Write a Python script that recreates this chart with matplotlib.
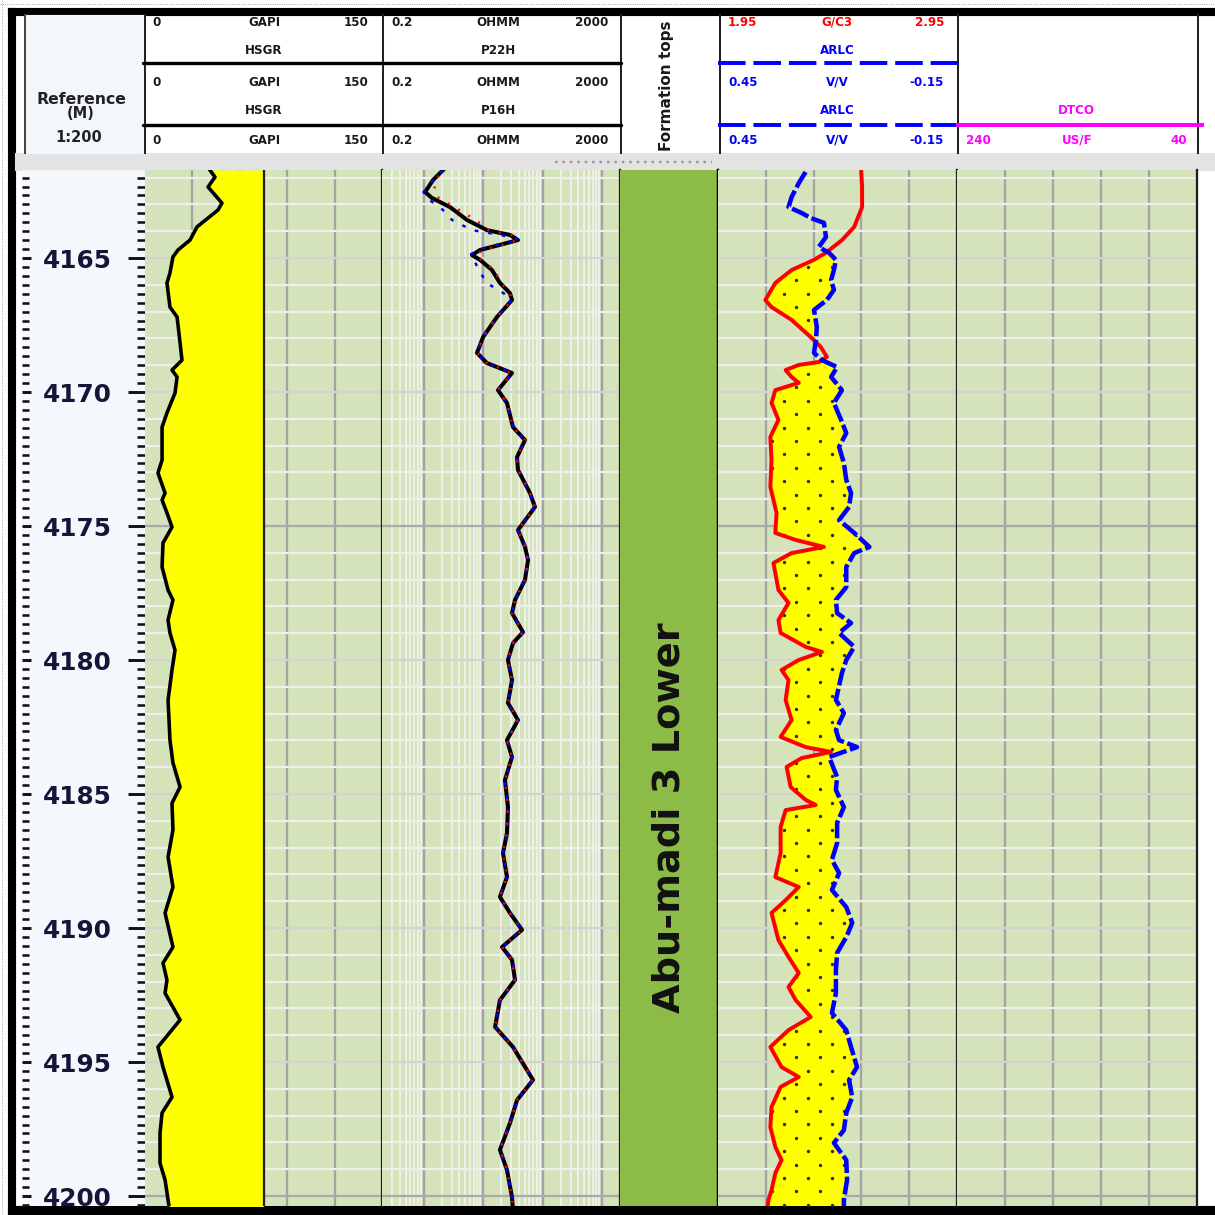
import numpy as np
import matplotlib
matplotlib.use('Agg')
import matplotlib.pyplot as plt
from matplotlib.patches import Rectangle
from matplotlib.path import Path
from matplotlib.ticker import MultipleLocator

# ---- log data ----
depth_gr = [4161.72, 4161.98, 4162.35, 4162.95, 4163.21, 4163.84, 4164.33, 4164.70, 4164.96,
            4165.56, 4165.93, 4166.83, 4167.20, 4168.17, 4168.81, 4169.18, 4169.44, 4170.04,
            4170.78, 4171.31, 4172.54, 4173.02, 4173.77, 4174.03, 4174.51, 4175.04, 4175.63,
            4176.53, 4177.39, 4177.76, 4178.51, 4178.99, 4179.63, 4180.37, 4181.49, 4182.99,
            4183.84, 4184.74, 4185.34, 4186.34, 4187.35, 4188.47, 4189.44, 4190.71, 4191.31,
            4191.94, 4192.43, 4193.43, 4194.44, 4195.19, 4196.31, 4196.90, 4197.65, 4198.77,
            4199.40, 4200.15, 4200.60]
gr_hsgr = [41.1, 44.3, 39.9, 48.7, 46.2, 32.9, 28.5, 20.9, 17.7,
           15.8, 13.9, 15.8, 20.3, 22.2, 23.4, 17.1, 20.3, 19.0,
           13.9, 10.8, 10.8, 8.2, 12.7, 10.8, 13.9, 17.1, 11.4,
           10.8, 14.6, 17.7, 14.6, 15.8, 19.0, 17.1, 14.6, 15.8,
           17.7, 22.2, 17.1, 17.7, 14.6, 17.7, 12.7, 17.7, 11.4,
           13.9, 12.7, 22.2, 8.2, 11.4, 17.1, 10.8, 9.5, 9.5,
           12.7, 14.6, 15.8]

depth_res = [4161.72, 4162.09, 4162.54, 4162.76, 4163.10, 4163.58, 4163.96, 4164.14, 4164.33,
             4164.51, 4164.70, 4164.89, 4165.07, 4165.45, 4165.93, 4166.31, 4166.57, 4167.20,
             4167.95, 4168.54, 4168.92, 4169.29, 4169.93, 4170.41, 4171.31, 4171.79, 4172.43,
             4172.91, 4173.77, 4174.29, 4175.15, 4175.78, 4176.27, 4177.01, 4177.76, 4178.25,
             4178.96, 4179.37, 4180.00, 4180.75, 4181.60, 4182.24, 4182.99, 4183.62, 4184.48,
             4185.49, 4186.46, 4187.20, 4188.10, 4188.84, 4189.44, 4190.07, 4190.71, 4191.19,
             4191.94, 4192.69, 4193.69, 4194.44, 4195.67, 4196.42, 4197.28, 4198.28, 4199.03,
             4200.04, 4200.60]
res_top_p22h = [2.12, 1.44, 1.06, 1.38, 2.78, 5.37, 11.6, 28.3, 38.6,
                19.2, 8.9, 6.5, 8.9, 14.1, 19.2, 28.3, 30.6]
res_top_p16h = [2.12, 1.6, 1.5, 1.8, 3.3, 7.5, 12.5, 30.0, 38.0,
                21.0, 10.0, 7.5, 9.5, 15.5, 20.0, 28.3, 30.6]
res_top_p34h = [2.12, 1.44, 1.0, 1.1, 1.9, 3.0, 6.5, 20.0, 42.0,
                17.0, 8.0, 6.0, 7.0, 8.5, 11.5, 22.0, 30.6]
res_tail = [17.1, 10.0, 7.9, 11.6, 30.6, 17.8, 25.2, 31.8, 50.6, 37.2,
            38.6, 61.4, 74.5, 38.6, 50.6, 56.9, 50.6, 34.4, 30.6, 46.9,
            31.8, 26.2, 30.6, 26.2, 38.6, 25.2, 30.6, 23.3, 26.2, 25.2,
            21.6, 25.2, 19.2, 28.3, 45.1, 20.8, 30.6, 34.4, 19.2, 15.9,
            31.8, 69.0, 37.2, 28.3, 19.2, 25.2, 30.6, 32.0]
res_p22h = res_top_p22h + res_tail
res_p16h = res_top_p16h + res_tail
res_p34h = res_top_p34h + res_tail

depth_rhob = [4161.72, 4162.35, 4163.10, 4163.84, 4164.33, 4164.81, 4165.07, 4165.45, 4165.93,
              4166.57, 4166.83, 4167.31, 4167.95, 4168.32, 4168.69, 4168.88, 4168.99, 4169.18,
              4169.44, 4169.66, 4169.93, 4170.41, 4171.04, 4171.68, 4172.54, 4173.54, 4174.51,
              4175.26, 4175.52, 4175.78, 4176.01, 4176.38, 4177.39, 4177.87, 4178.51, 4178.99,
              4179.51, 4179.70, 4180.00, 4180.37, 4180.75, 4181.49, 4182.24, 4182.87, 4183.25,
              4183.43, 4183.66, 4183.99, 4184.74, 4185.22, 4185.41, 4185.60, 4186.23, 4187.20,
              4188.10, 4188.47, 4188.96, 4189.44, 4190.45, 4191.08, 4191.68, 4192.20, 4192.69,
              4193.32, 4193.81, 4194.44, 4195.19, 4195.56, 4195.93, 4196.68, 4197.43, 4198.17,
              4198.66, 4199.14, 4199.78, 4200.15, 4200.60]
rhob = [2.549, 2.553, 2.553, 2.520, 2.469, 2.401, 2.351, 2.258, 2.190,
        2.148, 2.174, 2.258, 2.338, 2.380, 2.406, 2.372, 2.288, 2.233,
        2.258, 2.288, 2.190, 2.174, 2.203, 2.169, 2.174, 2.169, 2.195,
        2.190, 2.275, 2.393, 2.258, 2.182, 2.203, 2.245, 2.203, 2.212,
        2.317, 2.385, 2.288, 2.216, 2.245, 2.233, 2.258, 2.212, 2.317,
        2.423, 2.300, 2.237, 2.254, 2.317, 2.359, 2.233, 2.212, 2.212,
        2.190, 2.288, 2.233, 2.174, 2.203, 2.245, 2.288, 2.245, 2.275,
        2.338, 2.245, 2.169, 2.216, 2.288, 2.212, 2.174, 2.169, 2.190,
        2.216, 2.190, 2.174, 2.161, 2.155]

depth_nphi = [4161.79, 4162.20, 4162.72, 4163.10, 4163.32, 4163.51, 4163.69, 4164.22, 4164.59,
              4164.81, 4165.07, 4165.45, 4165.82, 4166.19, 4166.57, 4166.94, 4167.57, 4168.06,
              4168.54, 4168.81, 4169.07, 4169.44, 4169.93, 4170.41, 4171.04, 4171.53, 4172.05,
              4172.65, 4173.28, 4173.77, 4174.29, 4174.78, 4175.26, 4175.78, 4176.01, 4176.53,
              4177.28, 4177.76, 4178.25, 4178.62, 4178.99, 4179.51, 4180.00, 4180.49, 4181.49,
              4181.98, 4182.61, 4182.99, 4183.25, 4183.62, 4184.37, 4184.85, 4185.49, 4186.08,
              4186.83, 4187.46, 4187.95, 4188.58, 4189.22, 4189.81, 4190.34, 4190.93, 4191.57,
              4192.43, 4193.17, 4193.81, 4194.44, 4195.19, 4195.67, 4196.31, 4196.90, 4197.54,
              4198.02, 4198.66, 4199.40, 4200.15, 4200.60]
nphi = [0.230, 0.247, 0.265, 0.273, 0.240, 0.217, 0.184, 0.179, 0.197,
        0.171, 0.154, 0.159, 0.166, 0.159, 0.177, 0.209, 0.202, 0.204,
        0.209, 0.189, 0.151, 0.166, 0.139, 0.159, 0.141, 0.128, 0.146,
        0.134, 0.128, 0.116, 0.121, 0.146, 0.108, 0.070, 0.108, 0.128,
        0.128, 0.154, 0.151, 0.116, 0.146, 0.108, 0.128, 0.139, 0.154,
        0.134, 0.154, 0.146, 0.101, 0.171, 0.151, 0.154, 0.134, 0.151,
        0.151, 0.164, 0.146, 0.164, 0.128, 0.113, 0.128, 0.151, 0.154,
        0.154, 0.164, 0.128, 0.116, 0.101, 0.121, 0.113, 0.128, 0.134,
        0.159, 0.128, 0.126, 0.134, 0.134]

depth_marks = [4165, 4170, 4175, 4180, 4185, 4190, 4195, 4200]
depth_labels = [str(d) for d in depth_marks]
formation_name = 'Abu-madi 3 Lower'

# ---- layout (pixels) ----
W, H, DPI = 1215, 1215, 81
TOP_PX, BOT_PX = 170, 1206
D_TOP = 4165 + (TOP_PX - 258) / 26.8
D_BOT = 4165 + (BOT_PX - 258) / 26.8

GREEN = '#d5e3bb'
FM_GREEN = '#8cbc47'
GRID_MINOR = '#edf0e9'
GRID_MAJOR = '#a3a3a3'

plt.rcParams['font.family'] = 'DejaVu Sans'
fig = plt.figure(figsize=(W / DPI, H / DPI), dpi=DPI)


def box(x0, y0, x1, y1):
    return [x0 / W, 1 - y1 / H, (x1 - x0) / W, (y1 - y0) / H]


# frame, header background, splitter strip
fr = fig.add_axes([0, 0, 1, 1])
fr.set_xlim(0, W)
fr.set_ylim(H, 0)
fr.axis('off')
fr.plot([2, 2], [0, H], ls=(0, (1, 1.5)), color='#999999', lw=0.8)
fr.plot([0, W], [4, 4], ls=(0, (1, 1.5)), color='#999999', lw=0.8)
fr.add_patch(Rectangle((8, 8), W - 8, 7, color='black'))
fr.add_patch(Rectangle((8, 8), 7, H - 8, color='black'))
fr.add_patch(Rectangle((8, BOT_PX), W - 8, H - BOT_PX, color='black'))
fr.add_patch(Rectangle((15, 153), W - 15, TOP_PX - 153, color='#e3e3e3'))
fr.add_patch(Rectangle((25, 15), 120, 138, color='#f3f6fb'))
fr.plot([555, 712], [162, 162], ls=(0, (1, 2)), color='#9a9a9a', lw=2.2)
fr.plot([25, 25], [15, 153], color='#444444', lw=1.8)
for x in [145, 383, 621, 720, 958, 1198]:
    fr.plot([x, x], [15, 153], color='#222222', lw=1.8)
for y in [63, 125]:
    fr.plot([143, 621], [y, y], color='black', lw=3, solid_capstyle='round')
    fr.plot([718, 958], [y, y], color='blue', lw=3.5, ls=(0, (7, 2)))
fr.plot([958, 1202], [125, 125], color='#ff00ff', lw=3.5)

# header text
hd = fig.add_axes(box(15, 15, W, 153))
hd.set_xlim(15, W)
hd.set_ylim(153, 15)
hd.axis('off')
HFS = 10.5


def scale_row(y, lo, unit, hi, xl, xc, xr, color='#1a1a1a'):
    kw = dict(va='center', fontsize=HFS, fontweight='bold', color=color, clip_on=True)
    hd.text(xl, y, lo, ha='left', **kw)
    hd.text(xc, y, unit, ha='center', **kw)
    hd.text(xr, y, hi, ha='right', **kw)


def name_row(y, name, xc, color='#1a1a1a'):
    hd.text(xc, y, name, ha='center', va='center', fontsize=HFS, fontweight='bold', color=color)


for y in [22, 82, 140]:
    scale_row(y, '0', 'GAPI', '150', 152, 264, 369)
    scale_row(y, '0.2', 'OHMM', '2000', 391, 498, 608)
name_row(50, 'HSGR', 264)
name_row(110, 'HSGR', 264)
name_row(50, 'P22H', 498)
name_row(110, 'P16H', 498)
scale_row(22, '1.95', 'G/C3', '2.95', 728, 837, 944, 'red')
scale_row(82, '0.45', 'V/V', '-0.15', 728, 837, 944, 'blue')
scale_row(140, '0.45', 'V/V', '-0.15', 728, 837, 944, 'blue')
name_row(50, 'ARLC', 837, 'blue')
name_row(110, 'ARLC', 837, 'blue')
name_row(110, 'DTCO', 1076, '#ff00ff')
scale_row(140, '240', 'US/F', '40', 966, 1077, 1187, '#ff00ff')
hd.text(667, 151, 'Formation tops', rotation=90, ha='center', va='bottom',
        fontsize=13.5, fontweight='bold', color='#1a1a1a')
hd.text(81, 99, 'Reference', ha='center', va='center', fontsize=14, fontweight='bold', color='#222')
hd.text(81, 113, '(M)', ha='center', va='center', fontsize=13, fontweight='bold', color='#222')
hd.text(79, 137, '1:200', ha='center', va='center', fontsize=13, fontweight='bold', color='#222')

# ---- depth track ----
dep = fig.add_axes(box(22, TOP_PX, 145, BOT_PX))
dep.set_facecolor('#f4f7fb')
dep.set_ylim(D_BOT, D_TOP)
dep.set_xticks([])
for s in dep.spines.values():
    s.set_visible(False)
dep.set_yticks(depth_marks)
dep.set_yticklabels(depth_labels, fontsize=22, fontweight='bold', color='#15153a')
dep.yaxis.set_minor_locator(MultipleLocator(1 / 3))
dep.tick_params(axis='y', which='major', direction='in', length=8, width=2.6, pad=-80, color='#111111')
dep.tick_params(axis='y', which='minor', direction='in', length=6, width=2.3, color='#111111')

dep_r = dep.twinx()
dep_r.set_ylim(D_BOT, D_TOP)
for s in dep_r.spines.values():
    s.set_visible(False)
dep_r.set_yticks(depth_marks)
dep_r.yaxis.set_minor_locator(MultipleLocator(1 / 3))
dep_r.tick_params(axis='y', which='major', direction='in', length=15, width=2.6, labelright=False, color='#111111')
dep_r.tick_params(axis='y', which='minor', direction='in', length=7.5, width=2.3, color='#111111')


def make_track(x0, x1, xlim, xscale='linear'):
    ax = fig.add_axes(box(x0, TOP_PX, x1, BOT_PX))
    ax.set_facecolor(GREEN)
    ax.set_xscale(xscale)
    ax.set_xlim(*xlim)
    ax.set_ylim(D_BOT, D_TOP)
    ax.tick_params(which='both', left=False, bottom=False, labelleft=False, labelbottom=False)
    for s in ('top', 'bottom', 'left'):
        ax.spines[s].set_visible(False)
    ax.spines['right'].set_color('#1e1e1e')
    ax.spines['right'].set_linewidth(2)
    return ax


def hgrid(ax):
    for d in range(4162, 4201):
        if d % 25 == 0:
            c = '#aaaaaa'
        elif d % 5 == 0:
            c = '#d3d3d3'
        else:
            c = GRID_MINOR
        ax.axhline(d, color=c, lw=2, zorder=1)


def vgrid(ax, xs, color, lw=2, z=0.6):
    for x in xs:
        ax.axvline(x, color=color, lw=lw, zorder=z)


# ---- GR track ----
gax = make_track(145, 382, (0, 150))
vgrid(gax, [30, 60, 90, 120], GRID_MAJOR)
hgrid(gax)
gax.fill_betweenx(depth_gr, gr_hsgr, 75, color='#ffff00', lw=0, zorder=2)
gax.axvline(75, color='#1e1e1e', lw=2, zorder=3)
gax.plot(gr_hsgr, depth_gr, color='black', lw=3.2, zorder=4)

# ---- resistivity track ----
rax = make_track(382, 620, (0.2, 2000), 'log')
minor_res = [m * 10.0 ** e for e in range(-1, 3) for m in range(2, 10)]
minor_res = [v for v in minor_res if 0.2 < v < 2000]
vgrid(rax, minor_res, GRID_MINOR, lw=1.8, z=0.4)
vgrid(rax, [1, 10, 100, 1000], GRID_MAJOR, lw=2.2)
hgrid(rax)
rax.plot(res_p22h, depth_res, color='black', lw=3.6, zorder=3)
rax.plot(res_p34h, depth_res, color='blue', lw=2.2, ls=(0, (1.5, 4)), zorder=4)
rax.plot(res_p16h, depth_res, color='red', lw=2.2, ls=(2, (0.8, 4)), zorder=5)

# ---- formation track ----
fax = fig.add_axes(box(620, TOP_PX, 718, BOT_PX))
fax.set_facecolor(FM_GREEN)
fax.set_xticks([])
fax.set_yticks([])
for s in ('top', 'bottom', 'left'):
    fax.spines[s].set_visible(False)
fax.spines['right'].set_linewidth(2.2)
fax.text(0.5, 0.3745, formation_name, rotation=90, ha='center', va='center',
         fontsize=34, fontweight='bold', color='#111111', transform=fax.transAxes)

# ---- density / neutron track ----
dax = make_track(718, 957, (1.95, 2.95))
vgrid(dax, [2.15, 2.35, 2.55, 2.75], GRID_MAJOR)
hgrid(dax)
d_all = np.union1d(depth_rhob, depth_nphi)
rh_i = np.interp(d_all, depth_rhob, rhob)
nx_i = 1.95 + (0.45 - np.interp(d_all, depth_nphi, nphi)) / 0.6
cross = dax.fill_betweenx(d_all, rh_i, nx_i, where=rh_i < nx_i, interpolate=True,
                          facecolor='#ffff00', lw=0, zorder=2)
dot_x, dot_y = [], []
for i, d in enumerate(np.arange(4161.83, D_BOT, 0.5)):
    for x in np.arange(1.977 - 0.05 * (i % 2), 2.95, 0.1):
        dot_x.append(x)
        dot_y.append(d)
dots = dax.scatter(dot_x, dot_y, s=9, color='#2e2e2e', lw=0, zorder=2.5)
dots.set_clip_path(Path.make_compound_path(*cross.get_paths()), dax.transData)
dax.plot(rhob, depth_rhob, color='red', lw=3.5, zorder=4)
nax = dax.twiny()
nax.set_xlim(0.45, -0.15)
nax.axis('off')
nax.plot(nphi, depth_nphi, color='blue', lw=4, ls=(0, (4, 0.8)))

# ---- sonic track (no curve in this interval) ----
sax = make_track(957, 1197, (240, 40))
vgrid(sax, [200, 160, 120, 80], GRID_MAJOR)
hgrid(sax)

fig.savefig('out.png', dpi=DPI)
